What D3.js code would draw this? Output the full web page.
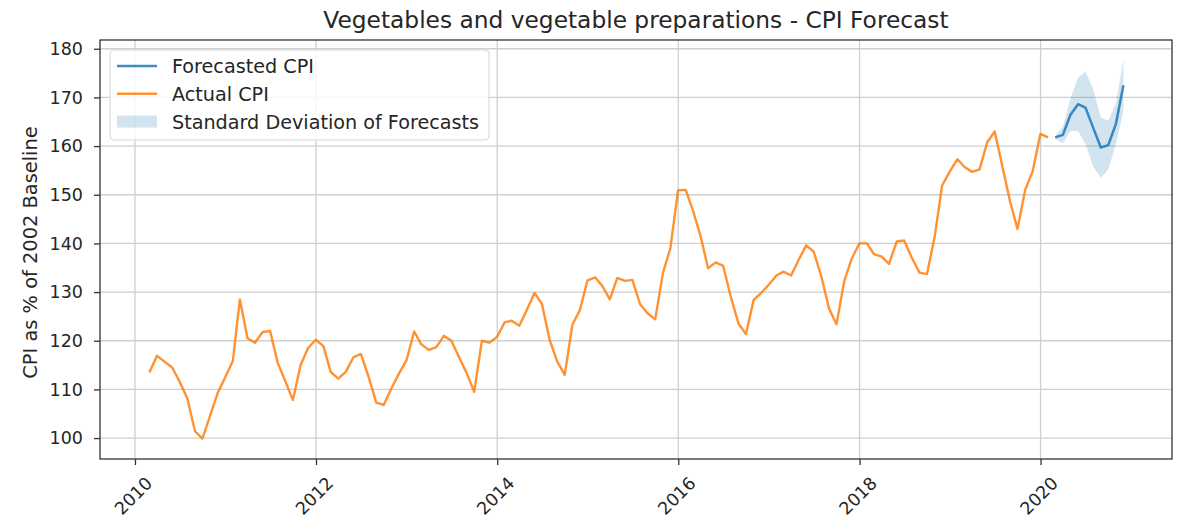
<!DOCTYPE html>
<html>
<head>
<meta charset="utf-8">
<script src="https://cdn.jsdelivr.net/npm/d3@7"></script>
<style>
  body { margin: 0; background: #fff; }
  text { font-family: "DejaVu Sans", sans-serif; fill: #262626; }
</style>
</head>
<body>
<script>
// actual CPI, monthly (month-end), Feb 2010 .. Jan 2020
const actualStart = [2010, 1]; // year, month index (Feb)
const actualCPI = [
  113.5, 116.9, 115.7, 114.5, 111.6, 108.2, 101.4, 99.9, 104.6, 109.2, 112.5,
  115.9, 128.5, 120.5, 119.6, 121.8, 122.0, 115.4, 111.6, 107.8, 115.0, 118.5, 120.2,
  118.9, 113.6, 112.2, 113.6, 116.6, 117.3, 112.6, 107.3, 106.8, 110.2, 113.2, 116.0,
  121.9, 119.3, 118.1, 118.7, 121.0, 120.0, 116.6, 113.3, 109.5, 120.0, 119.6, 120.8,
  123.8, 124.1, 123.1, 126.3, 129.8, 127.6, 120.2, 115.7, 113.0, 123.3, 126.3, 132.4,
  133.0, 131.3, 128.5, 132.9, 132.3, 132.5, 127.5, 125.6, 124.4, 133.9, 139.0, 150.9,
  151.0, 146.8, 141.5, 134.9, 136.1, 135.4, 129.0, 123.5, 121.4, 128.4, 129.8, 131.5,
  133.4, 134.2, 133.4, 136.6, 139.6, 138.3, 133.2, 126.6, 123.4, 132.2, 136.8, 140.0,
  140.0, 137.8, 137.3, 135.8, 140.4, 140.6, 137.0, 134.0, 133.7, 141.4, 151.9, 154.8,
  157.3, 155.7, 154.7, 155.2, 160.8, 163.0, 155.8, 148.6, 143.0, 151.0, 154.8, 162.5,
  161.8
];

// forecast, Feb 2020 .. Nov 2020
const forecastStart = [2020, 1];
const forecastCPI = [161.8, 162.3, 166.4, 168.6, 167.9, 163.8, 159.7, 160.2, 164.6, 172.5];
const forecastStd = [0.3, 1.7, 3.3, 5.5, 7.4, 8.0, 6.2, 5.0, 4.2, 5.3];

const yTicks = [100, 110, 120, 130, 140, 150, 160, 170, 180];
const xTickYears = [2010, 2012, 2014, 2016, 2018, 2020];

const title = "Vegetables and vegetable preparations - CPI Forecast";
const yLabel = "CPI as % of 2002 Baseline";
const legendItems = ["Forecasted CPI", "Actual CPI", "Standard Deviation of Forecasts"];

// month-end dates
function monthEnd(start, i) {
  return new Date(start[0], start[1] + i + 1, 0);
}

let actualData = actualCPI.map((v, i) => ({ date: monthEnd(actualStart, i), value: v }));
let forecastData = forecastCPI.map((v, i) => ({
  date: monthEnd(forecastStart, i), value: v, sd: forecastStd[i]
}));

let svgWidth = 1180, svgHeight = 523;
let margin = { top: 40, right: 8, bottom: 64, left: 100 };
let chartWidth = svgWidth - margin.left - margin.right;
let chartHeight = svgHeight - margin.top - margin.bottom;

let svg = d3.select("body").append("svg")
  .attr("width", svgWidth)
  .attr("height", svgHeight);

let chartGroup = svg.append("g")
  .attr("transform", `translate(${margin.left}, ${margin.top})`);

// scales
let xTimeScale = d3.scaleTime()
  .domain([new Date(2009, 7, 13), new Date(2021, 5, 14)])
  .range([0, chartWidth]);
let yLinearScale = d3.scaleLinear()
  .domain([95.7, 181.8])
  .range([chartHeight, 0]);

// grid
chartGroup.append("g")
  .selectAll("line")
  .data(yTicks)
  .enter().append("line")
  .attr("x1", 0).attr("x2", chartWidth)
  .attr("y1", d => yLinearScale(d)).attr("y2", d => yLinearScale(d))
  .attr("stroke", "#cfcfcf").attr("stroke-width", 1.3);
chartGroup.append("g")
  .selectAll("line")
  .data(xTickYears)
  .enter().append("line")
  .attr("x1", d => xTimeScale(new Date(d, 0, 1))).attr("x2", d => xTimeScale(new Date(d, 0, 1)))
  .attr("y1", 0).attr("y2", chartHeight)
  .attr("stroke", "#cfcfcf").attr("stroke-width", 1.3);

// std band
let area = d3.area()
  .x(d => xTimeScale(d.date))
  .y0(d => yLinearScale(d.value - d.sd))
  .y1(d => yLinearScale(d.value + d.sd));
chartGroup.append("path")
  .attr("d", area(forecastData))
  .attr("fill", "#1f77b4")
  .attr("fill-opacity", 0.2);

// lines
let line = d3.line()
  .x(d => xTimeScale(d.date))
  .y(d => yLinearScale(d.value));
chartGroup.append("path")
  .attr("d", line(actualData))
  .attr("fill", "none")
  .attr("stroke", "#ff7f0e")
  .attr("stroke-opacity", 0.85)
  .attr("stroke-width", 2.4)
  .attr("stroke-linejoin", "round");
chartGroup.append("path")
  .attr("d", line(forecastData))
  .attr("fill", "none")
  .attr("stroke", "#1f77b4")
  .attr("stroke-opacity", 0.85)
  .attr("stroke-width", 2.5)
  .attr("stroke-linejoin", "round");

// axes
let leftAxis = d3.axisLeft(yLinearScale)
  .tickValues(yTicks)
  .tickSize(6)
  .tickPadding(11);
let yAxis = chartGroup.append("g").call(leftAxis);
yAxis.select(".domain").remove();
yAxis.selectAll("line").attr("stroke", "#333").attr("stroke-width", 1.3);
yAxis.selectAll("text")
  .style("font-family", "DejaVu Sans")
  .style("font-size", "17.5px")
  .attr("fill", "#262626");

let bottomAxis = d3.axisBottom(xTimeScale)
  .tickValues(xTickYears.map(y => new Date(y, 0, 1)))
  .tickFormat(d3.timeFormat("%Y"))
  .tickSize(6);
let xAxis = chartGroup.append("g")
  .attr("transform", `translate(0, ${chartHeight})`)
  .call(bottomAxis);
xAxis.select(".domain").remove();
xAxis.selectAll("line").attr("stroke", "#333").attr("stroke-width", 1.3);
xAxis.selectAll("text")
  .attr("y", 0).attr("dy", 0)
  .attr("text-anchor", "middle")
  .attr("dominant-baseline", "central")
  .attr("transform", "translate(-2, 37) rotate(-45)")
  .style("font-family", "DejaVu Sans")
  .style("font-size", "17.5px")
  .attr("fill", "#262626");

// frame
chartGroup.append("rect")
  .attr("x", 0).attr("y", 0)
  .attr("width", chartWidth).attr("height", chartHeight)
  .attr("fill", "none")
  .attr("stroke", "#333")
  .attr("stroke-width", 1.3);

// title & y label
svg.append("text")
  .attr("x", margin.left + chartWidth / 2)
  .attr("y", 28)
  .attr("text-anchor", "middle")
  .style("font-size", "23.3px")
  .text(title);
svg.append("text")
  .attr("transform", `translate(36.5, ${margin.top + chartHeight / 2 + 3}) rotate(-90)`)
  .attr("text-anchor", "middle")
  .style("font-size", "19.4px")
  .text(yLabel);

// legend
let legend = svg.append("g").attr("transform", "translate(110, 50)");
legend.append("rect")
  .attr("width", 379).attr("height", 90)
  .attr("rx", 4)
  .attr("fill", "#fff").attr("fill-opacity", 0.8)
  .attr("stroke", "#d6d6d6").attr("stroke-width", 1);
const legendColors = ["#1f77b4", "#ff7f0e"];
legendItems.forEach((name, i) => {
  let cy = 16 + i * 27.8;
  if (i < 2) {
    legend.append("line")
      .attr("x1", 7).attr("x2", 47)
      .attr("y1", cy).attr("y2", cy)
      .attr("stroke", legendColors[i])
      .attr("stroke-opacity", 0.85)
      .attr("stroke-width", 2.5);
  } else {
    legend.append("rect")
      .attr("x", 7).attr("y", cy - 6)
      .attr("width", 40).attr("height", 12)
      .attr("fill", "#1f77b4").attr("fill-opacity", 0.2);
  }
  legend.append("text")
    .attr("x", 62).attr("y", cy)
    .attr("dy", "0.36em")
    .style("font-size", "19.2px")
    .text(name);
});
</script>
</body>
</html>
